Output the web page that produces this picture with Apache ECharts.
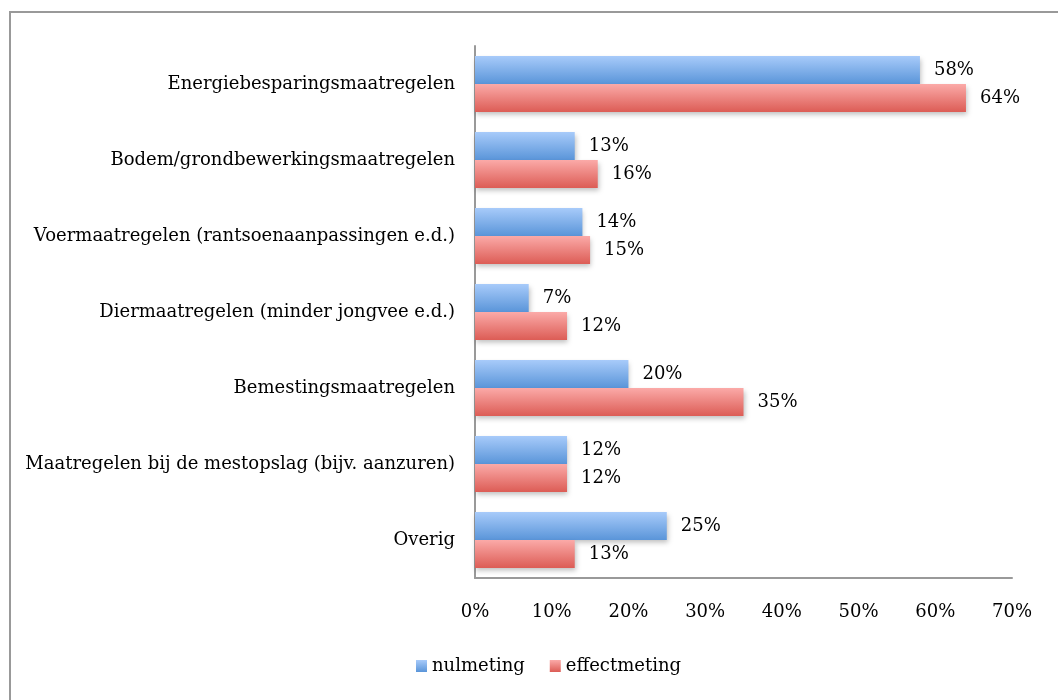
<!DOCTYPE html>
<html>
<head>
<meta charset="utf-8">
<script src="https://cdn.jsdelivr.net/npm/echarts@6/dist/echarts.min.js"></script>
<style>
  html, body { margin: 0; padding: 0; background: #fff; }
  #chart { width: 1058px; height: 700px; }
</style>
</head>
<body>
<div id="chart"></div>
<script>
// categories top to bottom
const categories = [
  'Energiebesparingsmaatregelen',
  'Bodem/grondbewerkingsmaatregelen',
  'Voermaatregelen (rantsoenaanpassingen e.d.)',
  'Diermaatregelen (minder jongvee e.d.)',
  'Bemestingsmaatregelen',
  'Maatregelen bij de mestopslag (bijv. aanzuren)',
  'Overig'
];
const nulmeting = [58, 13, 14, 7, 20, 12, 25];
const effectmeting = [64, 16, 15, 12, 35, 12, 13];

const FONT = 'DejaVu Serif';

function grad(top, bottom) {
  return new echarts.graphic.LinearGradient(0, 0, 0, 1, [
    { offset: 0, color: top },
    { offset: 1, color: bottom }
  ]);
}

const chart = echarts.init(document.getElementById('chart'));

function barSeries(name, data, top, bottom) {
  return {
    name: name,
    type: 'bar',
    data: data,
    barGap: '0%',
    barCategoryGap: '26%',
    itemStyle: {
      color: grad(top, bottom),
      shadowColor: 'rgba(0,0,0,0.25)',
      shadowBlur: 5,
      shadowOffsetX: 1,
      shadowOffsetY: 3
    },
    label: {
      show: true,
      position: 'right',
      distance: 14,
      formatter: '{c}%',
      fontFamily: FONT,
      fontSize: 18,
      color: '#000'
    }
  };
}

chart.setOption({
  animation: false,
  graphic: [{
    type: 'rect',
    shape: { x: 10, y: 12, width: 1070, height: 710 },
    style: { fill: 'none', stroke: '#999', lineWidth: 2 }
  }],
  grid: { left: 475, top: 46, right: 46, bottom: 122 },
  legend: {
    bottom: 20,
    left: 411,
    itemWidth: 11,
    itemHeight: 12,
    itemGap: 25,
    icon: 'rect',
    textStyle: { fontFamily: FONT, fontSize: 18, color: '#000' },
    data: ['nulmeting', 'effectmeting']
  },
  xAxis: {
    type: 'value',
    min: 0,
    max: 70,
    interval: 10,
    axisLine: { show: true, lineStyle: { color: '#999', width: 2 } },
    axisTick: { show: false },
    splitLine: { show: false },
    axisLabel: {
      formatter: '{value}%',
      margin: 25,
      fontFamily: FONT,
      fontSize: 18,
      color: '#000'
    }
  },
  yAxis: {
    type: 'category',
    inverse: true,
    data: categories,
    axisLine: { show: true, lineStyle: { color: '#999', width: 2 } },
    axisTick: { show: false },
    axisLabel: {
      margin: 20,
      fontFamily: FONT,
      fontSize: 18,
      color: '#000'
    }
  },
  series: [
    barSeries('nulmeting', nulmeting, '#a8cbfa', '#5a95d9'),
    barSeries('effectmeting', effectmeting, '#fbaaa8', '#dc5c55')
  ]
});
</script>
</body>
</html>
